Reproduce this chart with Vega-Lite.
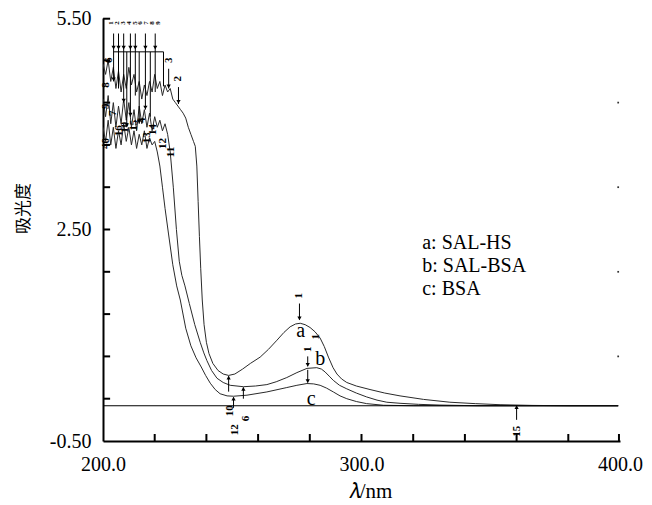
{
  "$schema": "https://vega.github.io/schema/vega-lite/v6.json",
  "width": 517,
  "height": 423,
  "padding": {"left": 103, "top": 18, "right": 32, "bottom": 64},
  "autosize": {"type": "none"},
  "background": "white",
  "config": {"view": {"stroke": null}, "font": "Liberation Serif"},
  "datasets": {
    "curves": [
      {"s":"a","x":200,"y":4.85},{"s":"a","x":201,"y":4.7},{"s":"a","x":202,"y":4.9},{"s":"a","x":203,"y":4.6},{"s":"a","x":204,"y":4.8},{"s":"a","x":205,"y":4.5},{"s":"a","x":206,"y":4.75},{"s":"a","x":207,"y":4.45},{"s":"a","x":208,"y":4.7},{"s":"a","x":209,"y":4.5},{"s":"a","x":210,"y":4.8},{"s":"a","x":211,"y":4.55},{"s":"a","x":212,"y":4.7},{"s":"a","x":213,"y":4.45},{"s":"a","x":214,"y":4.6},{"s":"a","x":215,"y":4.35},{"s":"a","x":216,"y":4.55},{"s":"a","x":217,"y":4.4},{"s":"a","x":218,"y":4.6},{"s":"a","x":219,"y":4.45},{"s":"a","x":220,"y":4.7},{"s":"a","x":221,"y":4.5},{"s":"a","x":222,"y":4.6},{"s":"a","x":223,"y":4.4},{"s":"a","x":224,"y":4.55},{"s":"a","x":225,"y":4.45},{"s":"a","x":226,"y":4.5},{"s":"a","x":227,"y":4.35},{"s":"a","x":228,"y":4.3},{"s":"a","x":229,"y":4.25},{"s":"a","x":230,"y":4.2},{"s":"a","x":231,"y":4.15},{"s":"a","x":232,"y":4.08},{"s":"a","x":233,"y":3.95},{"s":"a","x":234,"y":3.85},{"s":"a","x":235,"y":3.75},{"s":"a","x":235.7,"y":3.68},{"s":"a","x":236.3,"y":3.4},{"s":"a","x":236.8,"y":2.9},{"s":"a","x":237.3,"y":2.4},{"s":"a","x":237.8,"y":1.95},{"s":"a","x":238.4,"y":1.5},{"s":"a","x":239.1,"y":1.15},{"s":"a","x":240,"y":0.9},{"s":"a","x":241,"y":0.74},{"s":"a","x":242.5,"y":0.6},{"s":"a","x":244.5,"y":0.5},{"s":"a","x":246.5,"y":0.45},{"s":"a","x":248.6,"y":0.43},{"s":"a","x":251,"y":0.45},{"s":"a","x":254,"y":0.52},{"s":"a","x":257,"y":0.6},{"s":"a","x":260.8,"y":0.69},{"s":"a","x":264,"y":0.8},{"s":"a","x":267.3,"y":0.93},{"s":"a","x":270,"y":1.04},{"s":"a","x":272.4,"y":1.12},{"s":"a","x":274.5,"y":1.16},{"s":"a","x":276.3,"y":1.17},{"s":"a","x":278.2,"y":1.15},{"s":"a","x":280.1,"y":1.11},{"s":"a","x":282,"y":1.05},{"s":"a","x":284,"y":0.96},{"s":"a","x":285.6,"y":0.84},{"s":"a","x":287.2,"y":0.69},{"s":"a","x":289,"y":0.54},{"s":"a","x":290.5,"y":0.45},{"s":"a","x":292.3,"y":0.38},{"s":"a","x":294.3,"y":0.33},{"s":"a","x":298,"y":0.28},{"s":"a","x":303.3,"y":0.23},{"s":"a","x":309,"y":0.18},{"s":"a","x":314.9,"y":0.14},{"s":"a","x":324,"y":0.09},{"s":"a","x":334.2,"y":0.05},{"s":"a","x":344,"y":0.03},{"s":"a","x":353.6,"y":0.015},{"s":"a","x":366,"y":0.005},{"s":"a","x":380,"y":0},{"s":"a","x":399.3,"y":0},
      {"s":"b","x":200,"y":4.35},{"s":"b","x":201,"y":4.1},{"s":"b","x":202,"y":4.4},{"s":"b","x":203,"y":4.0},{"s":"b","x":204,"y":4.3},{"s":"b","x":205,"y":3.95},{"s":"b","x":206,"y":4.25},{"s":"b","x":207,"y":4.0},{"s":"b","x":208,"y":4.35},{"s":"b","x":209,"y":4.05},{"s":"b","x":210,"y":4.3},{"s":"b","x":211,"y":3.95},{"s":"b","x":212,"y":4.2},{"s":"b","x":213,"y":3.9},{"s":"b","x":214,"y":4.25},{"s":"b","x":215,"y":4.0},{"s":"b","x":216,"y":4.2},{"s":"b","x":217,"y":3.95},{"s":"b","x":218,"y":4.15},{"s":"b","x":219,"y":3.9},{"s":"b","x":220,"y":4.1},{"s":"b","x":221,"y":3.95},{"s":"b","x":222,"y":4.05},{"s":"b","x":223,"y":3.9},{"s":"b","x":224,"y":4.0},{"s":"b","x":225,"y":3.85},{"s":"b","x":226,"y":3.6},{"s":"b","x":227.2,"y":3.1},{"s":"b","x":228.4,"y":2.5},{"s":"b","x":229.5,"y":2.05},{"s":"b","x":230.5,"y":1.85},{"s":"b","x":231.7,"y":1.7},{"s":"b","x":233.4,"y":1.45},{"s":"b","x":235.5,"y":1.15},{"s":"b","x":237.6,"y":0.9},{"s":"b","x":239,"y":0.75},{"s":"b","x":240.2,"y":0.64},{"s":"b","x":242,"y":0.5},{"s":"b","x":244.1,"y":0.39},{"s":"b","x":246.5,"y":0.33},{"s":"b","x":249.2,"y":0.29},{"s":"b","x":254.3,"y":0.27},{"s":"b","x":259,"y":0.28},{"s":"b","x":263.4,"y":0.3},{"s":"b","x":267,"y":0.34},{"s":"b","x":271.1,"y":0.4},{"s":"b","x":275,"y":0.47},{"s":"b","x":278.9,"y":0.53},{"s":"b","x":282.7,"y":0.54},{"s":"b","x":284.5,"y":0.52},{"s":"b","x":285.9,"y":0.48},{"s":"b","x":287.5,"y":0.42},{"s":"b","x":289.1,"y":0.36},{"s":"b","x":291.5,"y":0.29},{"s":"b","x":294.3,"y":0.24},{"s":"b","x":298,"y":0.18},{"s":"b","x":302,"y":0.125},{"s":"b","x":306,"y":0.08},{"s":"b","x":309.8,"y":0.05},{"s":"b","x":314.9,"y":0.035},{"s":"b","x":322,"y":0.02},{"s":"b","x":330,"y":0.01},{"s":"b","x":345,"y":0},{"s":"b","x":399.3,"y":0},
      {"s":"c","x":200,"y":3.95},{"s":"c","x":201,"y":3.75},{"s":"c","x":202,"y":4.05},{"s":"c","x":203,"y":3.7},{"s":"c","x":204,"y":3.95},{"s":"c","x":205,"y":3.65},{"s":"c","x":206,"y":3.9},{"s":"c","x":207,"y":3.7},{"s":"c","x":208,"y":4.0},{"s":"c","x":209,"y":3.75},{"s":"c","x":210,"y":3.95},{"s":"c","x":211,"y":3.7},{"s":"c","x":212,"y":3.9},{"s":"c","x":213,"y":3.65},{"s":"c","x":214,"y":3.85},{"s":"c","x":215,"y":3.7},{"s":"c","x":216,"y":3.9},{"s":"c","x":217,"y":3.65},{"s":"c","x":218,"y":3.8},{"s":"c","x":219,"y":3.7},{"s":"c","x":220,"y":3.75},{"s":"c","x":221,"y":3.6},{"s":"c","x":222,"y":3.4},{"s":"c","x":223,"y":3.1},{"s":"c","x":224,"y":2.8},{"s":"c","x":225.3,"y":2.45},{"s":"c","x":227,"y":2.0},{"s":"c","x":228.5,"y":1.7},{"s":"c","x":229.9,"y":1.5},{"s":"c","x":232,"y":1.1},{"s":"c","x":234,"y":0.85},{"s":"c","x":236,"y":0.68},{"s":"c","x":238,"y":0.55},{"s":"c","x":239.7,"y":0.43},{"s":"c","x":241.5,"y":0.32},{"s":"c","x":243.4,"y":0.23},{"s":"c","x":245.3,"y":0.17},{"s":"c","x":248,"y":0.14},{"s":"c","x":250.5,"y":0.135},{"s":"c","x":255.7,"y":0.15},{"s":"c","x":263.4,"y":0.196},{"s":"c","x":271.1,"y":0.258},{"s":"c","x":275,"y":0.29},{"s":"c","x":278.9,"y":0.315},{"s":"c","x":281.5,"y":0.31},{"s":"c","x":284,"y":0.29},{"s":"c","x":286.5,"y":0.25},{"s":"c","x":289.1,"y":0.196},{"s":"c","x":291.7,"y":0.14},{"s":"c","x":294.3,"y":0.1},{"s":"c","x":298,"y":0.06},{"s":"c","x":302,"y":0.03},{"s":"c","x":308.5,"y":0.007},{"s":"c","x":320,"y":0},{"s":"c","x":399.3,"y":0}
    ],
    "segments": [
      {"x":200,"x2":399.3,"y":0,"y2":0},
      {"x":276,"x2":276,"y":1.45,"y2":1.22},
      {"x":279.2,"x2":279.2,"y":0.7,"y2":0.56},
      {"x":279.2,"x2":279.2,"y":0.51,"y2":0.33},
      {"x":248.6,"x2":248.6,"y":0.2,"y2":0.42},
      {"x":254.3,"x2":254.3,"y":0.1,"y2":0.26},
      {"x":250.5,"x2":250.5,"y":-0.03,"y2":0.12},
      {"x":360,"x2":360,"y":-0.2,"y2":0.0},
      {"x":225.4,"x2":225.4,"y":4.78,"y2":4.5},
      {"x":229.2,"x2":229.2,"y":4.52,"y2":4.28},
      {"x":204.1,"x2":204.1,"y":5.28,"y2":4.6},
      {"x":206,"x2":206,"y":5.28,"y2":4.5},
      {"x":208,"x2":208,"y":5.28,"y2":4.3},
      {"x":210.6,"x2":210.6,"y":5.28,"y2":4.1},
      {"x":212.5,"x2":212.5,"y":5.28,"y2":4.4},
      {"x":216.4,"x2":216.4,"y":5.28,"y2":4.2},
      {"x":220.2,"x2":220.2,"y":5.28,"y2":4.45},
      {"x":209.2,"x2":209.2,"y":5.02,"y2":3.95},
      {"x":214,"x2":214,"y":5.02,"y2":4.0},
      {"x":218.3,"x2":218.3,"y":5.02,"y2":4.1},
      {"x":204.1,"x2":223.4,"y":5.02,"y2":5.02},
      {"x":223.4,"x2":223.4,"y":5.02,"y2":4.53}
    ],
    "xticks": [
      {"x":220,"y":-0.45},{"x":240,"y":-0.45},{"x":260,"y":-0.45},{"x":280,"y":-0.45},{"x":300,"y":-0.45},{"x":320,"y":-0.45},{"x":340,"y":-0.45},{"x":360,"y":-0.45},{"x":380,"y":-0.45},{"x":399.6,"y":-0.45}
    ],
    "yticks": [
      {"x":201.4,"y":0.1},{"x":201.4,"y":0.7},{"x":201.4,"y":1.3},{"x":201.4,"y":1.9},{"x":201.4,"y":2.5},{"x":201.4,"y":3.1},{"x":201.4,"y":3.7},{"x":201.4,"y":4.3},{"x":201.4,"y":4.9},{"x":201.4,"y":5.49}
    ],
    "heads": [
      {"x":276,"y":1.24,"d":"down"},
      {"x":279.2,"y":0.58,"d":"down"},
      {"x":279.2,"y":0.35,"d":"down"},
      {"x":248.6,"y":0.4,"d":"up"},
      {"x":254.3,"y":0.24,"d":"up"},
      {"x":250.5,"y":0.1,"d":"up"},
      {"x":360,"y":-0.02,"d":"up"},
      {"x":225.4,"y":4.53,"d":"down"},
      {"x":229.2,"y":4.31,"d":"down"},
      {"x":204.1,"y":5.08,"d":"down"},
      {"x":206,"y":5.08,"d":"down"},
      {"x":208,"y":5.08,"d":"down"},
      {"x":210.6,"y":5.08,"d":"down"},
      {"x":212.5,"y":5.08,"d":"down"},
      {"x":216.4,"y":5.08,"d":"down"},
      {"x":220.2,"y":5.08,"d":"down"},
      {"x":204.1,"y":4.63,"d":"down"},
      {"x":208,"y":4.33,"d":"down"},
      {"x":210.6,"y":4.13,"d":"down"},
      {"x":216.4,"y":4.23,"d":"down"},
      {"x":209.2,"y":3.98,"d":"down"},
      {"x":214,"y":4.03,"d":"down"}
    ],
    "nums": [
      {"x":276,"y":1.56,"t":"1"},
      {"x":282.4,"y":0.98,"t":"1"},
      {"x":279.2,"y":0.8,"t":"1"},
      {"x":249,"y":-0.07,"t":"10"},
      {"x":251,"y":-0.34,"t":"12"},
      {"x":255.5,"y":-0.18,"t":"6"},
      {"x":360,"y":-0.36,"t":"15"},
      {"x":225.4,"y":4.9,"t":"3"},
      {"x":229.2,"y":4.64,"t":"2"},
      {"x":223.4,"y":3.72,"t":"12"},
      {"x":226.4,"y":3.6,"t":"11"},
      {"x":217,"y":3.8,"t":"13"},
      {"x":219.5,"y":3.92,"t":"14"},
      {"x":215,"y":4.05,"t":"4"},
      {"x":212,"y":3.98,"t":"15"},
      {"x":201,"y":3.72,"t":"40"},
      {"x":201.2,"y":4.25,"t":"9"},
      {"x":201.2,"y":4.55,"t":"8"},
      {"x":202.5,"y":4.9,"t":"6"},
      {"x":204,"y":4.15,"t":"7"},
      {"x":206,"y":3.9,"t":"16"},
      {"x":208.5,"y":3.95,"t":"10"}
    ],
    "tiny": [
      {"x":203,"y":5.43,"t":"1"},{"x":205.3,"y":5.43,"t":"2"},{"x":207.6,"y":5.43,"t":"3"},{"x":209.9,"y":5.43,"t":"4"},{"x":212.2,"y":5.43,"t":"5"},{"x":214.5,"y":5.43,"t":"6"},{"x":216.8,"y":5.43,"t":"7"},{"x":219.1,"y":5.43,"t":"8"},{"x":221.4,"y":5.43,"t":"9"}
    ],
    "curvelabels": [
      {"x":276.5,"y":1.06,"t":"a"},
      {"x":284,"y":0.67,"t":"b"},
      {"x":280.5,"y":0.1,"t":"c"}
    ],
    "legend": [
      {"x":323.5,"y":2.31,"t":"a: SAL-HS"},
      {"x":323.5,"y":1.98,"t":"b: SAL-BSA"},
      {"x":323.5,"y":1.65,"t":"c: BSA"}
    ],
    "dots": [
      {"x":399.3,"y":4.3},{"x":399.3,"y":3.1},{"x":399.3,"y":1.9},{"x":399.3,"y":0.7}
    ]
  },
  "encoding": {
    "x": {"field": "x", "type": "quantitative",
      "scale": {"domain": [200, 400], "nice": false, "zero": false},
      "axis": {"title": "𝜆/nm", "values": [200,300,400],
        "labelExpr": "datum.value==200 ? '200.0' : datum.value==300 ? '300.0' : datum.value==400 ? '400.0' : ''",
        "grid": false, "domainColor": "black", "domainWidth": 2, "ticks": false,
        "labelFont": "Liberation Serif", "labelFontSize": 20, "labelColor": "black", "labelPadding": 13, "labelFlush": false, "labelOverlap": false,
        "titleFont": "Liberation Serif", "titleFontSize": 21, "titleFontWeight": "normal", "titleColor": "black", "titlePadding": 6,
        "titleX": 267, "titleAlign": "center"}},
    "y": {"field": "y", "type": "quantitative",
      "scale": {"domain": [-0.5, 5.5], "nice": false, "zero": false},
      "axis": {"title": "吸光度", "values": [-0.5,2.5,5.5],
        "labelExpr": "abs(datum.value-5.5)<0.01 ? '5.50' : abs(datum.value-2.5)<0.01 ? '2.50' : abs(datum.value+0.5)<0.01 ? '-0.50' : ''",
        "grid": false, "domainColor": "black", "domainWidth": 2, "ticks": false,
        "labelFont": "Liberation Serif", "labelFontSize": 20, "labelColor": "black", "labelPadding": 12, "labelFlush": false, "labelOverlap": false,
        "titleFont": "Noto Sans CJK SC", "titleFontSize": 17, "titleFontWeight": "normal", "titleColor": "black",
        "titleAngle": 270, "titleX": -80, "titleY": 190, "titleAlign": "center", "titleBaseline": "middle"}}
  },
  "layer": [
    {
      "data": {"name": "curves"},
      "mark": {"type": "line", "stroke": "#2a2a2a", "strokeWidth": 1, "clip": true},
      "encoding": {"detail": {"field": "s", "type": "nominal"}}
    },
    {
      "data": {"name": "segments"},
      "mark": {"type": "rule", "stroke": "black", "strokeWidth": 1},
      "encoding": {"x2": {"field": "x2"}, "y2": {"field": "y2"}}
    },
    {
      "data": {"name": "xticks"},
      "mark": {"type": "tick", "orient": "vertical", "color": "black", "opacity": 1, "thickness": 2, "size": 7}
    },
    {
      "data": {"name": "yticks"},
      "mark": {"type": "tick", "orient": "horizontal", "color": "black", "opacity": 1, "thickness": 2, "size": 7}
    },
    {
      "data": {"name": "heads"},
      "mark": {"type": "point", "filled": true, "color": "black", "opacity": 1, "size": 18},
      "encoding": {
        "shape": {"field": "d", "type": "nominal", "scale": {"domain": ["down", "up"], "range": ["triangle-down", "triangle-up"]}, "legend": null}
      }
    },
    {
      "data": {"name": "nums"},
      "mark": {"type": "text", "angle": 270, "font": "Liberation Serif", "fontWeight": "bold", "fontSize": 11, "color": "black", "align": "center", "baseline": "middle"},
      "encoding": {"text": {"field": "t"}}
    },
    {
      "data": {"name": "tiny"},
      "mark": {"type": "text", "angle": 270, "font": "Liberation Serif", "fontWeight": "bold", "fontSize": 7, "color": "black", "align": "center", "baseline": "middle"},
      "encoding": {"text": {"field": "t"}}
    },
    {
      "data": {"name": "curvelabels"},
      "mark": {"type": "text", "font": "Liberation Serif", "fontSize": 20, "color": "black", "align": "center", "baseline": "middle"},
      "encoding": {"text": {"field": "t"}}
    },
    {
      "data": {"name": "legend"},
      "mark": {"type": "text", "font": "Liberation Serif", "fontSize": 20, "color": "black", "align": "left", "baseline": "middle"},
      "encoding": {"text": {"field": "t"}}
    },
    {
      "data": {"name": "dots"},
      "mark": {"type": "square", "color": "#333", "opacity": 1, "size": 3},
      "encoding": {}
    }
  ]
}
